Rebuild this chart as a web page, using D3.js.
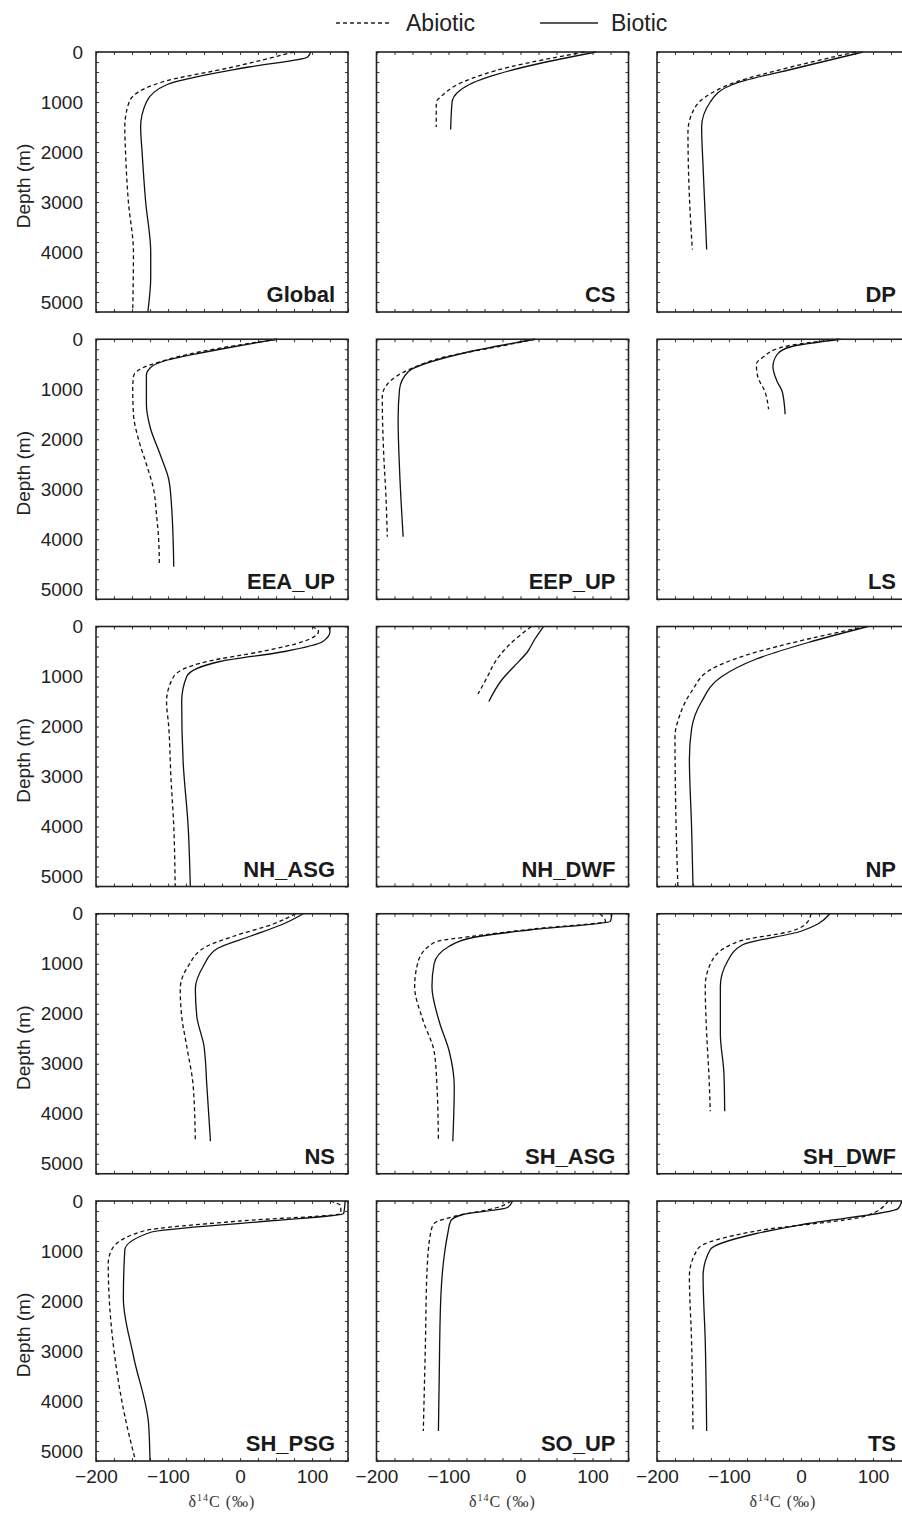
<!DOCTYPE html>
<html>
<head>
<meta charset="utf-8">
<script src="https://cdn.jsdelivr.net/npm/d3@7"></script>
<style>
body { margin: 0; background: #fff; }
svg { display: block; font-family: "Liberation Sans", Arial, sans-serif; }
</style>
</head>
<body>
<div id="chart"></div>
<script>
// panel names, reading order (3 columns x 5 rows)
var panelNames = ["Global", "CS", "DP", "EEA_UP", "EEP_UP", "LS", "NH_ASG", "NH_DWF", "NP",
    "NS", "SH_ASG", "SH_DWF", "SH_PSG", "SO_UP", "TS"];

// profiles as [depth (m), d14C (permil)]
var globalAbiotic = [[0, 75], [300, -10], [600, -108], [1000, -154], [1500, -160], [2000, -159], [3000, -155], [4000, -148], [5200, -149]];
var globalBiotic = [[0, 98], [100, 94], [300, 12], [650, -101], [1000, -130], [1500, -138], [2000, -136], [3000, -131], [4000, -124], [4500, -124], [5200, -128]];

var csAbiotic = [[0, 89], [300, -15], [600, -80], [900, -111], [1000, -117], [1500, -117]];
var csBiotic = [[0, 105], [300, 5], [650, -71], [1000, -95], [1550, -97]];

var dpAbiotic = [[0, 76], [300, -14], [600, -90], [900, -133], [1250, -152], [1600, -157], [2500, -156], [3950, -151]];
var dpBiotic = [[0, 86], [300, 0], [650, -95], [1000, -126], [1500, -138], [2300, -136], [3950, -131]];

var eeaAbiotic = [[0, 51], [250, -55], [450, -111], [600, -139], [750, -148], [1000, -149], [1500, -148], [2000, -141], [2500, -130], [3000, -120], [3500, -116], [4000, -113], [4500, -112]];
var eeaBiotic = [[0, 51], [150, -9], [250, -46], [420, -102], [550, -123], [720, -130], [1300, -130], [1750, -125], [2300, -111], [2800, -99], [3350, -95], [4550, -92]];

var eepAbiotic = [[0, 20], [150, -32], [350, -104], [580, -151], [900, -185], [1150, -192], [2300, -190], [3100, -187], [3950, -185]];
var eepBiotic = [[0, 20], [280, -80], [650, -156], [1000, -168], [1600, -170], [2600, -168], [3950, -163]];

var lsAbiotic = [[0, 52], [150, -24], [350, -52], [500, -62], [750, -60], [1050, -50], [1400, -45]];
var lsBiotic = [[0, 55], [150, -14], [300, -33], [550, -39], [850, -33], [1050, -26], [1500, -22]];

var nhAsgAbiotic = [[0, 100], [100, 109], [300, 88], [500, 30], [700, -46], [1000, -92], [1500, -102], [2000, -99], [3000, -96], [4000, -92], [5200, -90]];
var nhAsgBiotic = [[0, 123], [100, 125], [300, 115], [500, 62], [700, -28], [1000, -74], [1500, -81], [2700, -79], [4000, -72], [5200, -69]];

var nhDwfAbiotic = [[0, 15], [400, -18], [750, -37], [950, -44], [1350, -59]];
var nhDwfBiotic = [[0, 32], [250, 20], [500, 10], [800, -9], [1050, -25], [1500, -44]];

var npAbiotic = [[0, 90], [250, 10], [550, -71], [850, -124], [1300, -152], [1800, -169], [2200, -175], [3650, -174], [5200, -171]];
var npBiotic = [[0, 93], [320, 10], [650, -62], [1000, -110], [1500, -138], [2050, -152], [2650, -155], [4000, -152], [5200, -150]];

var nsAbiotic = [[0, 77], [200, 47], [450, -9], [650, -46], [1050, -72], [1500, -83], [2050, -81], [2650, -74], [3450, -65], [4550, -62]];
var nsBiotic = [[0, 88], [200, 61], [450, 14], [700, -32], [1050, -51], [1500, -62], [2050, -60], [2650, -50], [3450, -46], [4550, -41]];

var shAsgAbiotic = [[0, 110], [150, 118], [300, 20], [450, -66], [560, -118], [950, -142], [1450, -147], [2150, -135], [2750, -120], [3450, -116], [4550, -114]];
var shAsgBiotic = [[0, 127], [150, 125], [320, 15], [450, -56], [650, -99], [1000, -120], [1450, -123], [2150, -113], [2750, -99], [3450, -92], [4550, -94]];

var shDwfAbiotic = [[0, 14], [200, 7], [350, -14], [550, -86], [950, -124], [1450, -133], [2400, -131], [3200, -128], [3950, -126]];
var shDwfBiotic = [[0, 40], [200, 24], [350, 0], [620, -81], [950, -102], [1450, -112], [2400, -112], [3200, -107], [3950, -106]];

var shPsgAbiotic = [[0, 125], [100, 140], [250, 140], [400, 0], [600, -134], [970, -178], [1250, -183], [2100, -181], [3100, -174], [4300, -160], [5200, -145]];
var shPsgBiotic = [[0, 146], [250, 144], [400, 40], [630, -125], [980, -160], [1950, -162], [3100, -148], [4450, -127], [5200, -125]];

var soUpAbiotic = [[0, -13], [130, -32], [300, -90], [450, -120], [650, -125], [1450, -130], [2800, -132], [4600, -135]];
var soUpBiotic = [[0, -11], [130, -18], [270, -80], [400, -97], [650, -101], [1100, -106], [2050, -111], [3650, -113], [4600, -114]];

var tsAbiotic = [[0, 121], [300, 90], [600, -62], [950, -143], [1500, -155], [2800, -152], [4600, -150]];
var tsBiotic = [[0, 140], [150, 135], [450, 10], [650, -62], [970, -126], [1500, -136], [2800, -133], [4600, -131]];

var abioticData = [globalAbiotic, csAbiotic, dpAbiotic, eeaAbiotic, eepAbiotic, lsAbiotic, nhAsgAbiotic, nhDwfAbiotic,
    npAbiotic, nsAbiotic, shAsgAbiotic, shDwfAbiotic, shPsgAbiotic, soUpAbiotic, tsAbiotic];
var bioticData = [globalBiotic, csBiotic, dpBiotic, eeaBiotic, eepBiotic, lsBiotic, nhAsgBiotic, nhDwfBiotic,
    npBiotic, nsBiotic, shAsgBiotic, shDwfBiotic, shPsgBiotic, soUpBiotic, tsBiotic];

var xTickLabels = [-200, -100, 0, 100];
var yTickLabels = [0, 1000, 2000, 3000, 4000, 5000];

var svgWidth = 902;
var svgHeight = 1515;

var panelW = 252;
var panelH = 260;
var colStep = 280.5;
var rowStep = 287.25;
var margin = { top: 52, left: 96 };

var svg = d3.select("#chart")
    .append("svg")
    .attr("width", svgWidth)
    .attr("height", svgHeight);

var xScale = d3.scaleLinear().domain([-200, 150]).range([0, panelW]);
var yScale = d3.scaleLinear().domain([0, 5200]).range([0, panelH]);

var line = d3.line()
    .curve(d3.curveMonotoneY)
    .x(d => xScale(d[1]))
    .y(d => yScale(d[0]));

// legend
var legend = svg.append("g").attr("font-size", 23).attr("fill", "#222");
legend.append("line").attr("x1", 336).attr("x2", 390).attr("y1", 23).attr("y2", 23)
    .attr("stroke", "#222").attr("stroke-width", 1.3).attr("stroke-dasharray", "4,3");
legend.append("text").attr("x", 406).attr("y", 31).text("Abiotic");
legend.append("line").attr("x1", 540).attr("x2", 598).attr("y1", 23).attr("y2", 23)
    .attr("stroke", "#222").attr("stroke-width", 1.3);
legend.append("text").attr("x", 611).attr("y", 31).text("Biotic");

panelNames.forEach(function(name, i) {
    var col = i % 3;
    var row = Math.floor(i / 3);
    var g = svg.append("g")
        .attr("transform", `translate(${margin.left + col * colStep}, ${margin.top + row * rowStep})`);

    // small inner ticks on all four sides
    function ticks(axis, values, size) {
        return axis.tickValues(values).tickSize(-size).tickFormat("");
    }
    var xMinor = d3.range(-200, 151, 25);
    var yMinor = d3.range(0, 5201, 200);
    g.append("g").call(ticks(d3.axisTop(xScale), xMinor, 3));
    g.append("g").attr("transform", `translate(0,${panelH})`).call(ticks(d3.axisBottom(xScale), xMinor, 3));
    g.append("g").call(ticks(d3.axisLeft(yScale), yMinor, 3));
    g.append("g").attr("transform", `translate(${panelW},0)`).call(ticks(d3.axisRight(yScale), yMinor, 3));
    g.selectAll(".domain").remove();
    g.selectAll(".tick line").attr("stroke", "#444").attr("stroke-width", 1.1);

    g.append("path")
        .datum(abioticData[i])
        .attr("d", line)
        .attr("fill", "none")
        .attr("stroke", "#111")
        .attr("stroke-width", 1.3)
        .attr("stroke-dasharray", "4,3");

    g.append("path")
        .datum(bioticData[i])
        .attr("d", line)
        .attr("fill", "none")
        .attr("stroke", "#111")
        .attr("stroke-width", 1.3);

    g.append("rect")
        .attr("width", panelW)
        .attr("height", panelH)
        .attr("fill", "none")
        .attr("stroke", "#222")
        .attr("stroke-width", 1.6);

    g.append("text")
        .attr("x", panelW - 13)
        .attr("y", panelH - 10)
        .attr("text-anchor", "end")
        .attr("font-weight", "bold")
        .attr("font-size", 22)
        .attr("fill", "#1a1a1a")
        .text(name);

    if (col === 0) {
        var leftAxis = d3.axisLeft(yScale).tickValues(yTickLabels).tickSize(0).tickPadding(13)
            .tickFormat(d3.format("d"));
        var ya = g.append("g").call(leftAxis);
        ya.select(".domain").remove();
        ya.selectAll("text").attr("font-size", 19).attr("fill", "#222").attr("font-family", null);

        g.append("text")
            .attr("transform", `translate(-66, ${panelH / 2 + 4}) rotate(-90)`)
            .attr("text-anchor", "middle")
            .attr("font-size", 19)
            .attr("fill", "#222")
            .text("Depth (m)");
    }

    if (row === 4) {
        var bottomAxis = d3.axisBottom(xScale).tickValues(xTickLabels).tickSize(0).tickPadding(9);
        var xa = g.append("g").attr("transform", `translate(0,${panelH})`).call(bottomAxis);
        xa.select(".domain").remove();
        xa.selectAll("text").attr("font-size", 19).attr("fill", "#222").attr("font-family", null);

        var title = g.append("text")
            .attr("x", panelW / 2)
            .attr("y", panelH + 46)
            .attr("text-anchor", "middle")
            .attr("font-family", "'Liberation Serif', 'Times New Roman', serif")
            .attr("font-size", 16)
            .attr("letter-spacing", 1)
            .attr("fill", "#333");
        title.append("tspan").text("δ");
        title.append("tspan").attr("font-size", 10).attr("dy", -6).text("14");
        title.append("tspan").attr("dy", 6).text("C (‰)");
    }
});
</script>
</body>
</html>
